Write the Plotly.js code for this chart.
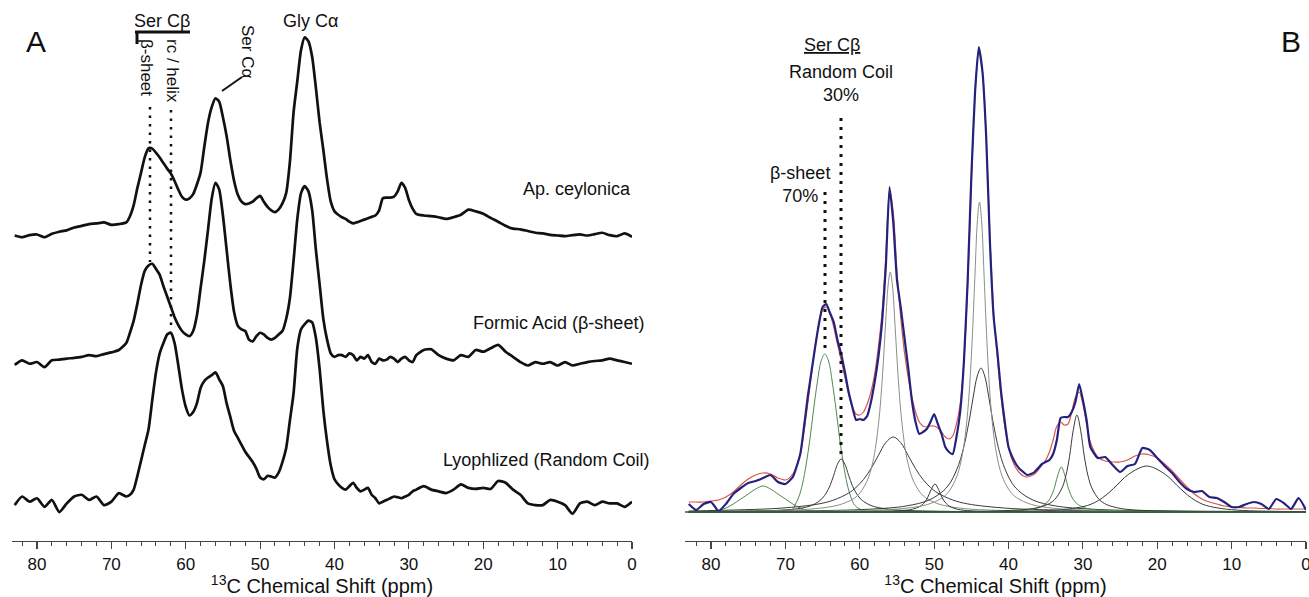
<!DOCTYPE html>
<html><head><meta charset="utf-8">
<script src="https://cdn.plot.ly/plotly-3.0.1.min.js"></script>
<style>html,body{margin:0;padding:0;background:#fff}#chart{width:1309px;height:597px}</style>
</head><body><div id="chart"></div>
<script>
// Chemical shift grid (ppm) shared by the measured spectra
const ppmGrid = [83,82,81,80,79,78,77,76,75,74,73,72,71,70,69,
68,67.5,67,66.5,66,65.5,65,64.5,64,63.5,63,62.5,62,61.5,61,60.5,60,59.5,59,58.5,58,57.5,57,56.5,56,55.5,55,54.5,54,53.5,53,52.5,52,51.5,51,50.5,50,49.5,49,48.5,48,47.5,47,46.5,46,45.5,45,44.5,44,43.5,43,42.5,42,41.5,41,40.5,40,39.5,39,38.5,38,37.5,37,36.5,36,35.5,35,34.5,34,33.5,33,32.5,32,31.5,31,30.5,30,29.5,29,
28,27,26,25,24,23,22,21,20,19,18,17,16,15,14,13,12,11,10,9,8,7,6,5,4,3,2,1,0];

// Panel A spectra (intensity above each trace's own baseline, a.u.)
const apCeylonica = [2,-3,3,5,-3,7,13,17,25,30,35,37,40,33,35,
40,58,90,140,185,230,255,254,242,228,
212,196,182,160,135,114,106,110,122,150,
185,260,330,375,400,390,345,290,220,160,
120,100,93,95,100,110,117,100,85,75,
70,78,95,125,215,360,450,540,577,565,
520,430,330,250,165,100,72,62,55,50,
42,37,40,44,48,52,56,60,75,110,
112,112,115,130,155,140,105,80,65,
60,58,55,50,55,62,77,72,65,53,42,30,22,20,15,10,8,4,2,0,3,5,2,6,10,3,0,8,-2];

const formicAcid = [-3,10,0,5,-10,10,12,15,17,20,25,22,28,33,40,
60,90,125,175,230,270,285,290,275,258,
225,195,165,135,112,95,85,80,95,140,
220,300,390,480,525,505,430,330,230,150,
110,100,95,70,65,80,90,85,75,70,
75,85,95,130,190,300,420,495,515,500,
445,330,230,130,70,30,20,25,25,20,
30,25,10,20,15,25,5,0,15,10,
12,20,15,5,15,20,10,5,25,
40,42,25,15,10,25,20,40,35,45,55,35,20,5,-5,5,0,5,-5,5,-5,0,5,8,10,15,10,5,0];

const lyophilized = [-5,20,5,15,-10,10,-25,0,20,25,10,20,-5,5,30,
20,25,40,80,125,170,215,300,380,435,
465,490,495,465,400,330,280,255,265,290,
335,355,365,372,380,360,340,290,250,210,
190,170,150,135,120,100,75,70,80,78,
75,90,120,160,240,320,450,505,520,530,
525,480,390,270,180,110,70,55,45,40,
50,60,45,35,40,45,25,15,0,5,
10,15,20,18,15,20,25,35,40,
50,40,35,30,40,55,45,42,45,42,65,60,40,25,0,-5,-5,10,5,-5,-30,0,5,-5,5,0,0,-10,5];

const seriesNamesA = ['Ap. ceylonica', 'Formic Acid (β-sheet)', 'Lyophlized (Random Coil)'];

// Panel B: measured spectrum and total fit
const measuredB = [8,2,8,10,1,8,18,24,29,31,34,37,30,28,35,
58,85,115,140,165,188,205,208,199,190,
172,158,140,120,105,92,93,92,96,110,
130,155,190,245,325,290,232,205,175,145,
112,90,78,80,83,90,98,88,78,65,
60,58,75,100,150,230,335,420,465,440,
375,270,195,160,120,90,65,55,48,43,
40,37,38,40,44,48,50,52,58,72,
94,95,95,100,110,128,112,92,65,
54,55,47,40,46,48,64,62,54,46,39,30,23,20,21,15,14,10,5,5,8,10,8,3,13,9,3,14,2];

const fitTotal = [10,10,10,11,12,15,20,27,33,37,39,38,34,32,38,
58,80,108,138,165,188,202,205,198,185,
168,152,135,118,105,98,97,100,108,120,
138,165,200,255,322,300,240,195,160,135,
115,100,90,86,85,86,86,84,80,75,
73,76,88,108,150,225,330,418,463,440,
375,275,200,155,115,85,65,52,44,39,
36,35,36,38,42,47,52,60,72,86,
90,87,88,100,115,120,108,88,70,
55,51,50,50,52,56,58,57,54,48,41,33,25,18,13,10,8,6,5,4.5,4,4,3.5,3.5,3,3,3,3,3];

// Panel B: deconvolution components (ppm, intensity)
const comp73Ppm = [83,80,79,78,77,76,75,74,73,72,71,70,69,68,67,66,63,0];
const comp73Int = [0,0.5,1.5,4,8,13,18,23,26,23,18,13,8,4,1.5,0.5,0,0];

const compBetaPpm = [83,70,69,68.7,68.2,67.7,67.2,66.7,66.2,65.7,65.2,64.7,64.2,63.7,63.2,62.7,62.2,61.7,61.2,60.7,60,59,55,0];
const compBetaInt = [0.5,2,3,7,15,28,48,73,103,130,151,158,151,130,103,73,48,28,15,7,3,2,1,0];

const compRcPpm = [83,72.5,69.5,67.5,66.5,65.5,65,64.5,64,63.5,63,62.5,62,61.5,61,60.5,60,59.5,58.5,57.5,55.5,52.5,42.5,0];
const compRcInt = [0.3,1.2,2.3,4.4,6.5,10.6,14,19.1,26.5,36.7,47.7,53,47.7,36.7,26.5,19.1,14,10.6,6.5,4.4,2.3,1.2,0.3,0];

const compSerPpm = [83,70.9,65.9,62.9,60.9,59.9,58.9,58.4,57.9,57.4,57.1,56.8,56.5,56.2,55.9,55.6,55.3,55,54.7,54.4,53.9,53.4,52.9,51.9,50.9,48.9,45.9,40.9,30.9,15.9,0];
const compSerInt = [0.3,1.5,3.4,6.9,13,19.8,33,45,63.5,94,120,154,192,226,240,226,192,154,120,94,63.5,45,33,19.8,13,6.9,3.4,1.5,0.55,0.22,0.15];

const compSerBroadPpm = [83,75.5,70.5,65.5,63.5,61.5,60.5,59.5,58.5,57.5,56.5,55.5,54.5,53.5,52.5,51.5,50.5,49.5,47.5,45.5,40.5,35.5,27.5,0];
const compSerBroadInt = [1,2.3,3.9,8.1,12,18.9,24.6,32.5,43.3,56.6,69.4,75,69.4,56.6,43.3,32.5,24.6,18.9,12,8.1,3.9,2.3,1.2,0.4];

const comp50Ppm = [83,59.9,54.9,52.9,51.9,51.4,50.9,50.4,49.9,49.4,48.9,48.4,47.9,46.9,44.9,39.9,0];
const comp50Int = [0,0.3,1.1,2.8,5.6,8.6,14,22.4,28,22.4,14,8.6,5.6,2.8,1.1,0.3,0];

const compGlyPpm = [83,68.9,58.9,53.9,50.9,48.9,47.9,46.9,46.2,45.7,45.3,45,44.8,44.5,44.2,43.9,43.6,43.3,43,42.8,42.5,42.1,41.6,40.9,39.9,38.9,36.9,33.9,28.9,18.9,3.9,0];
const compGlyInt = [0.2,0.6,1.7,3.7,7.5,14.3,21.8,36.7,57.7,84,118,155,186,239,289,310,289,239,186,155,118,84,57.7,36.7,21.8,14.3,7.5,3.7,1.7,0.6,0.23,0.2];

const compGlyBroadPpm = [83,68.7,58.7,53.7,50.7,48.7,47.7,46.7,46.2,45.8,45.2,44.7,44.2,43.7,43.2,42.7,42.2,41.6,41.2,40.7,39.7,38.7,36.7,33.7,28.7,18.7,3.7,0];
const compGlyBroadInt = [0.4,1,2.8,6.1,11.9,21.6,31,47.4,59.6,72,95,117,136,144,136,117,95,72,59.6,47.4,31,21.6,11.9,6.1,2.8,1,0.4,0.35];

const comp33Ppm = [83,42.9,37.9,35.9,34.9,34.4,33.9,33.4,32.9,32.4,31.9,31.4,30.9,29.9,27.9,22.9,0];
const comp33Int = [0,0.45,1.7,4.5,9,13.8,22.5,36,45,36,22.5,13.8,9,4.5,1.7,0.45,0];

const comp31Ppm = [83,50.8,40.8,36.8,34.8,33.8,32.8,32.3,31.8,31.3,30.8,30.3,29.8,29.3,28.8,27.8,26.8,24.8,20.8,10.8,0];
const comp31Int = [0.1,0.32,1.27,3.4,7.4,12.4,24.1,35.9,55.2,81.6,97,81.6,55.2,35.9,24.1,12.4,7.4,3.4,1.27,0.32,0.15];

const comp21Ppm = [83,41.4,34.4,31.4,29.4,28.4,27.4,26.4,25.4,24.4,23.4,22.4,21.4,20.4,19.4,18.4,17.4,16.4,15.4,14.4,13.4,11.4,8.4,1.4,0];
const comp21Int = [0,0.4,1.5,3.5,6.5,9.5,14,20,27,34.5,40,44,46,44,40,34.5,27,20,14,9.5,6.5,3.5,1.5,0.4,0.3];

// ---------------- drawing ----------------
const W = 1309, PLOT_H = 541;
const px = x => x / W;
const py = y => (PLOT_H - y) / PLOT_H;
const FONT = 'Liberation Sans, Arial, Helvetica, sans-serif';
const GREEN = '#4f8a4f', DARK = '#3a3a3a', GREY = '#8a8f8a';

const offsetsA = [884, 514, 109];
const specA = [apCeylonica, formicAcid, lyophilized];
const traces = [];
specA.forEach((s, i) => {
  traces.push({x: ppmGrid, y: s.map(v => v + offsetsA[i]), xaxis: 'x', yaxis: 'y', mode: 'lines',
    name: seriesNamesA[i], hoverinfo: 'skip',
    line: {color: '#111', width: 2.7, shape: 'spline', smoothing: 0.6}});
});

const comps = [
  [comp73Ppm, comp73Int, GREEN],
  [compBetaPpm, compBetaInt, GREEN],
  [compRcPpm, compRcInt, DARK],
  [compSerBroadPpm, compSerBroadInt, DARK],
  [compSerPpm, compSerInt, GREY],
  [comp50Ppm, comp50Int, DARK],
  [compGlyBroadPpm, compGlyBroadInt, DARK],
  [compGlyPpm, compGlyInt, GREY],
  [comp33Ppm, comp33Int, GREEN],
  [comp31Ppm, comp31Int, DARK],
  [comp21Ppm, comp21Int, DARK]
];
comps.forEach(c => traces.push({x: c[0], y: c[1], xaxis: 'x2', yaxis: 'y2', mode: 'lines', hoverinfo: 'skip',
  line: {color: c[2], width: 1, shape: 'spline', smoothing: 1}}));
traces.push({x: ppmGrid, y: fitTotal, xaxis: 'x2', yaxis: 'y2', mode: 'lines', hoverinfo: 'skip',
  line: {color: '#d9534f', width: 1.2, shape: 'spline', smoothing: 0.8}});
traces.push({x: ppmGrid, y: measuredB, xaxis: 'x2', yaxis: 'y2', mode: 'lines', hoverinfo: 'skip',
  line: {color: '#23237e', width: 2.2, shape: 'spline', smoothing: 0.5}});

const xAxisBase = {
  showline: true, linecolor: '#444', linewidth: 1.2, mirror: false,
  ticks: 'outside', ticklen: 7, tickwidth: 1.2, tickcolor: '#444',
  dtick: 10, tick0: 0, showgrid: false, zeroline: false,
  ticklabeloverflow: 'allow',
  tickfont: {family: FONT, size: 17, color: '#111'},
  minor: {dtick: 2, tick0: 0, ticks: 'outside', ticklen: 4, tickwidth: 1, tickcolor: '#444', showgrid: false},
  title: {text: '<sup>13</sup>C Chemical Shift (ppm)', font: {family: FONT, size: 20, color: '#111'}, standoff: 2},
  fixedrange: true
};

const ann = (x, y, text, extra) => Object.assign({xref: 'paper', yref: 'paper', x: px(x), y: py(y), text: text,
  showarrow: false, xanchor: 'center', yanchor: 'middle', font: {family: FONT, size: 18, color: '#111'}}, extra || {});

const annotations = [
  ann(36, 42, 'A', {font: {family: FONT, size: 30, color: '#111'}}),
  ann(162, 21, 'Ser Cβ'),
  ann(147, 67, 'β-sheet', {textangle: 90, font: {family: FONT, size: 17, color: '#111'}}),
  ann(173, 71, 'rc / helix', {textangle: 90, font: {family: FONT, size: 17, color: '#111'}}),
  ann(248, 52, 'Ser Cα', {textangle: 90, font: {family: FONT, size: 17, color: '#111'}}),
  ann(310, 21, 'Gly Cα'),
  ann(633, 189, seriesNamesA[0], {xanchor: 'right'}),
  ann(646, 323, seriesNamesA[1], {xanchor: 'right'}),
  ann(651, 460, seriesNamesA[2], {xanchor: 'right'}),
  ann(1291, 42, 'B', {font: {family: FONT, size: 30, color: '#111'}}),
  ann(832, 45, '<u>Ser Cβ</u>'),
  ann(841, 84, 'Random Coil<br>30%'),
  ann(800, 184, 'β-sheet<br>70%')
];

const seg = (x0, y0, x1, y1, w, dash, color) => ({type: 'line', xref: 'paper', yref: 'paper',
  x0: px(x0), y0: py(y0), x1: px(x1), y1: py(y1), line: {color: color || '#111', width: w, dash: dash || 'solid'}});

const shapes = [
  seg(135, 32, 190, 32, 3),
  seg(137, 32, 137, 44, 3),
  seg(222, 91, 242, 77, 2),
  seg(150, 107, 150, 262, 2.5, '2.5px,6px'),
  seg(171, 110, 171, 330, 2.5, '2.5px,6px'),
  seg(825, 192, 825, 350, 3, '3px,6px'),
  seg(841, 118, 841, 457, 3, '3px,6px'),
  {type: 'line', xref: 'x2', yref: 'y2', x0: 83.5, x1: 0, y0: 0, y1: 0, line: {color: '#35603a', width: 1.6}}
];

const layout = {
  width: 1309, height: 597,
  margin: {l: 0, r: 0, t: 0, b: 56},
  paper_bgcolor: '#fff', plot_bgcolor: '#fff',
  showlegend: false,
  xaxis: Object.assign({}, xAxisBase, {domain: [12 / W, 632 / W], range: [83.36, 0], anchor: 'y'}),
  yaxis: {domain: [0, 1], range: [0, 1569], visible: false, fixedrange: true},
  xaxis2: Object.assign({}, xAxisBase, {domain: [685 / W, 1306 / W], range: [83.5, 0], anchor: 'y2'}),
  yaxis2: {domain: [0, 1], range: [-29, 512], visible: false, anchor: 'x2', fixedrange: true},
  annotations: annotations,
  shapes: shapes
};

Plotly.newPlot('chart', traces, layout, {displayModeBar: false, staticPlot: true});
</script></body></html>
